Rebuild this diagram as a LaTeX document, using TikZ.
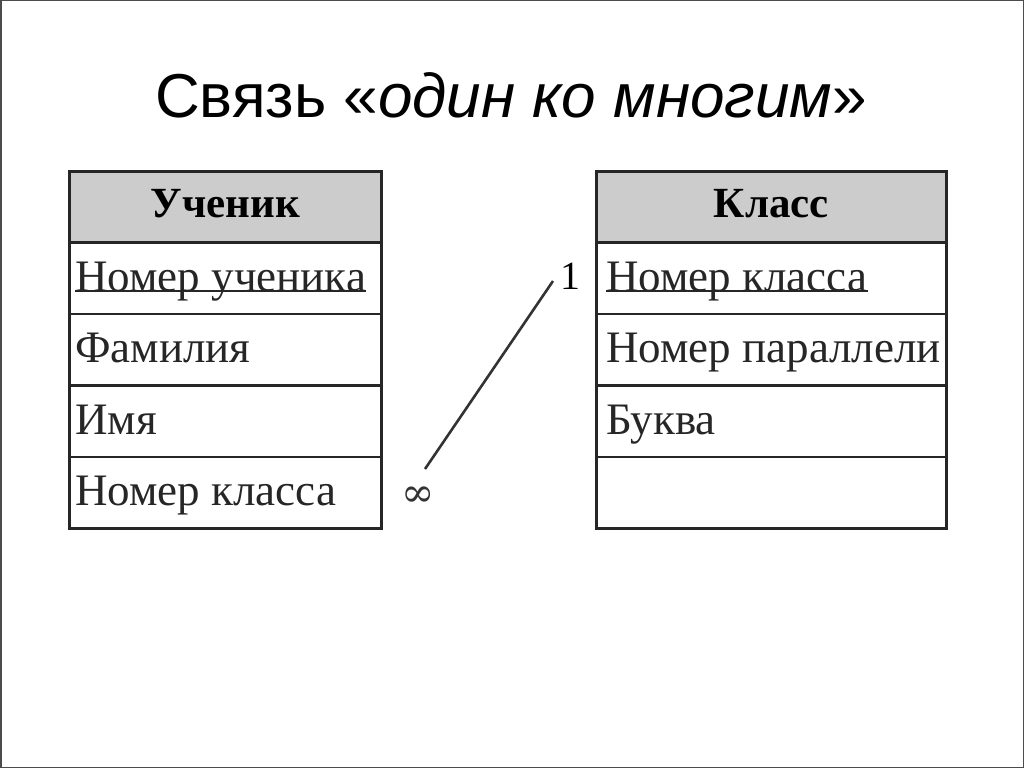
\documentclass[tikz,border=0pt]{standalone}
\usepackage{fontspec}
\setmainfont{Liberation Serif}
\newfontfamily\titlefont{Liberation Sans}
\newfontfamily\symfont{DejaVu Serif}
\begin{document}
\begin{tikzpicture}[x=1pt,y=-1pt,
  cellbox/.style={draw=black!85, line width=2.6pt, minimum height=71.4pt, inner sep=0pt, anchor=north west},
  headbox/.style={cellbox, fill=black!20},
  headtext/.style={font=\fontsize{43}{47}\selectfont\bfseries, inner sep=0pt, anchor=base},
  rowtext/.style={font=\fontsize{45}{49}\selectfont, text=black!85, inner sep=0pt, anchor=base west},
  keyline/.style={line width=2pt, draw=black!85},
  link/.style={line width=2.6pt, draw=black!80},
  card/.style={font=\fontsize{40}{44}\selectfont, inner sep=0pt}
]
\useasboundingbox (0,0) rectangle (1024,768);
\fill[white] (0,0) rectangle (1024,768);
\draw[black!70, line width=1.5pt] (0.75,0.75) rectangle (1023.25,767.25);

% title
\node[font=\titlefont\fontsize{62}{68}\selectfont, anchor=base] (title) at (511,117) {Связь «\textit{один ко многим}»};

% left table: Ученик
\node[headbox, minimum width=312pt] (u0) at (68,170) {};
\node[cellbox, minimum width=312pt] (u1) at (68,241.4) {};
\node[cellbox, minimum width=312pt] (u2) at (68,312.8) {};
\node[cellbox, minimum width=312pt] (u3) at (68,384.2) {};
\node[cellbox, minimum width=312pt] (u4) at (68,455.6) {};
\node[headtext] (u0t) at ([yshift=-10pt]u0.center) {Ученик};
\node[rowtext] (u1t) at ([xshift=7pt,yshift=-13pt]u1.west) {Номер ученика};
\node[rowtext] (u2t) at ([xshift=7pt,yshift=-13pt]u2.west) {Фамилия};
\node[rowtext] (u3t) at ([xshift=7pt,yshift=-13pt]u3.west) {Имя};
\node[rowtext] (u4t) at ([xshift=7pt,yshift=-13pt]u4.west) {Номер класса};
\draw[keyline] (u1t.base west) -- (u1t.base east);

% right table: Класс
\node[headbox, minimum width=350pt] (k0) at (595,170) {};
\node[cellbox, minimum width=350pt] (k1) at (595,241.4) {};
\node[cellbox, minimum width=350pt] (k2) at (595,312.8) {};
\node[cellbox, minimum width=350pt] (k3) at (595,384.2) {};
\node[cellbox, minimum width=350pt] (k4) at (595,455.6) {};
\node[headtext] (k0t) at ([yshift=-10pt]k0.center) {Класс};
\node[rowtext] (k1t) at ([xshift=11pt,yshift=-13pt]k1.west) {Номер класса};
\node[rowtext] (k2t) at ([xshift=11pt,yshift=-13pt]k2.west) {Номер параллели};
\node[rowtext] (k3t) at ([xshift=11pt,yshift=-13pt]k3.west) {Буква};
\draw[keyline] (k1t.base west) -- (k1t.base east);

% relationship
\coordinate (manyend) at (425,469);
\coordinate (oneend) at (553,281);
\draw[link] (manyend) -- (oneend);
\node[card] (one) at (570,276) {1};
\node[card, font=\symfont\fontsize{40}{44}\selectfont, text=black!80] (many) at (418,497) {∞};
\end{tikzpicture}
\end{document}
